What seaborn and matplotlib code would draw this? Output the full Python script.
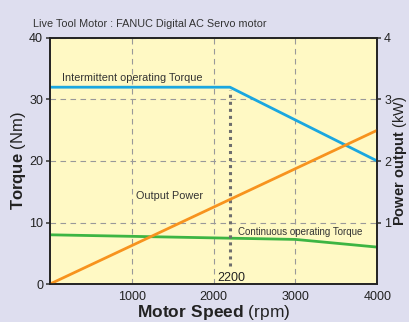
import numpy as np
import pandas as pd
import matplotlib
matplotlib.use("Agg")
import matplotlib.pyplot as plt
import seaborn as sns

speed = [0, 2200, 4000]
intermittent_torque = [32, 32, 20]
cont_speed = [0, 3000, 4000]
continuous_torque = [8, 7.25, 6]
power_speed = [0, 4000]
output_power = [0, 2.5]
rated_speed = 2200

sns.set_theme(style="white")
plt.rcParams['font.family'] = ['Liberation Sans', 'DejaVu Sans']
plt.rcParams['mathtext.fontset'] = 'custom'
plt.rcParams['mathtext.bf'] = 'Liberation Sans:bold'
plt.rcParams['mathtext.rm'] = 'Liberation Sans'

fig = plt.figure(figsize=(4.1, 3.22), dpi=100)
fig.patch.set_facecolor('#dedeef')
ax1 = fig.add_axes([0.122, 0.118, 0.798, 0.764])
ax1.set_facecolor('#fff9c4')

sns.lineplot(x=speed, y=intermittent_torque, ax=ax1, color='#1aa7e0', lw=2)
sns.lineplot(x=cont_speed, y=continuous_torque, ax=ax1, color='#3db543', lw=2)
ax1.plot([rated_speed, rated_speed], [3, 31.5], color='#6e6e6e', lw=2.2, ls=(0, (1, 1.3)))

ax1.set_xlim(0, 4000)
ax1.set_ylim(0, 40)
ax1.set_xticks([1000, 2000, 3000, 4000])
ax1.set_yticks([0, 10, 20, 30, 40])
ax1.grid(True, color='#999999', ls=(0, (5, 4)), lw=0.8)
ax1.tick_params(labelsize=9, length=3, color='#444444', pad=2, labelcolor='#222222')

ax2 = ax1.twinx()
sns.lineplot(x=power_speed, y=output_power, ax=ax2, color='#f7931e', lw=2)
ax2.set_ylim(0, 4)
ax2.set_yticks([1, 2, 3, 4])
ax2.tick_params(labelsize=9, length=3, color='#444444', pad=2, labelcolor='#222222')
ax2.grid(False)

for a in (ax1, ax2):
    for s in a.spines.values():
        s.set_color('#222222')
        s.set_linewidth(1.2)

ax1.set_xlabel(r"$\mathbf{Motor\ Speed}$ (rpm)", fontsize=12.5, labelpad=0, color='#222222')
ax1.set_ylabel(r"$\mathbf{Torque}$ (Nm)", fontsize=12, labelpad=1, color='#222222')
ax2.set_ylabel(r"$\mathbf{Power\ output}$ (kW)", fontsize=10.5, labelpad=0, color='#222222')

ax1.text(150, 33.0, "Intermittent operating Torque", fontsize=7.8, color='#333333')
ax1.text(1050, 13.8, "Output Power", fontsize=7.8, color='#333333')
ax1.text(2300, 8.0, "Continuous operating Torque", fontsize=7.0, color='#333333')
ax1.text(2050, 0.5, str(rated_speed), fontsize=9, color='#222222')
fig.text(0.08, 0.915, "Live Tool Motor : FANUC Digital AC Servo motor", fontsize=7.8, color='#333333')

fig.savefig("out.png", dpi=100, facecolor=fig.get_facecolor())
